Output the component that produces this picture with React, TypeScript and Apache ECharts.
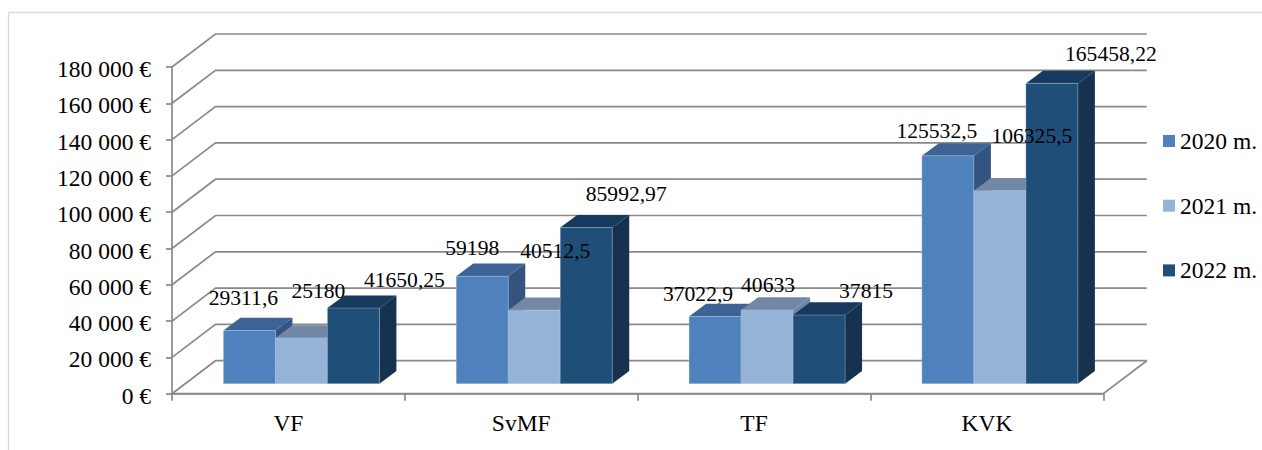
import React, { useEffect, useRef } from "react";
import * as echarts from "echarts";

const categories = ["VF", "SvMF", "TF", "KVK"];
const seriesNames = ["2020 m.", "2021 m.", "2022 m."];
const values2020 = [29311.6, 59198, 37022.9, 125532.5];
const values2021 = [25180, 40512.5, 40633, 106325.5];
const values2022 = [41650.25, 85992.97, 37815, 165458.22];
const label2020 = ["29311,6", "59198", "37022,9", "125532,5"];
const label2021 = ["25180", "40512,5", "40633", "106325,5"];
const label2022 = ["41650,25", "85992,97", "37815", "165458,22"];
const axisTicks = [0, 20000, 40000, 60000, 80000, 100000, 120000, 140000, 160000, 180000];

const allValues = [values2020, values2021, values2022];
const allLabels = [label2020, label2021, label2022];

// Appearance only
const FONT = "Liberation Serif";
const AXIS_SIZE = 23.5;
const LABEL_SIZE = 21.6;
const faceColors = [
  { front: "#4F81BD", top: "#3C6394", side: "#32547E" },
  { front: "#95B3D7", top: "#7288A6", side: "#6F86A4" },
  { front: "#1F4E79", top: "#173A5E", side: "#16324F" },
];
const labelShift = [
  [[-6, -32], [17, -47], [51, -28]],
  [[-10, -28], [21, -59], [40, -34]],
  [[-17, -23], [1, -25], [47, -24]],
  [[-11, -25], [32, -55], [59, -29]],
];
const WALL_DX = 43.5;
const WALL_DY = -33;
const PLANE_DX = 13;
const PLANE_DY = -10;
const DEPTH_DX = 17;
const DEPTH_DY = -12.7;
const BAR_W = 52;
const LINE = "#8A8A8A";
const LINE_W = 1.7;

function wallItem(params: any, api: any) {
  const cs = params.coordSys;
  const y = api.coord([0, api.value(1)])[1];
  const left = cs.x;
  const right = cs.x + cs.width;
  const children: any[] = [
    {
      type: "polyline",
      shape: { points: [[left, y], [left + WALL_DX, y + WALL_DY], [right + WALL_DX, y + WALL_DY]] },
      style: { stroke: LINE, lineWidth: LINE_W, fill: "none" },
    },
  ];
  if (api.value(1) === 0) {
    children.push({
      type: "polyline",
      shape: { points: [[left, y], [right, y], [right + WALL_DX, y + WALL_DY]] },
      style: { stroke: LINE, lineWidth: LINE_W, fill: "none" },
    });
  }
  return { type: "group", children };
}

function barItem(seriesIndex: number) {
  return (params: any, api: any) => {
    const cat = api.value(0);
    const base = api.coord([cat, 0]);
    const top = api.coord([cat, api.value(1)]);
    const cx = base[0] + PLANE_DX + (seriesIndex - 1) * BAR_W;
    const x0 = cx - BAR_W / 2;
    const x1 = cx + BAR_W / 2;
    const yb = base[1] + PLANE_DY;
    const yt = top[1] + PLANE_DY;
    const c = faceColors[seriesIndex];
    const shift = labelShift[cat][seriesIndex];
    return {
      type: "group",
      children: [
        {
          type: "polygon",
          shape: { points: [[x1, yt], [x1 + DEPTH_DX, yt + DEPTH_DY], [x1 + DEPTH_DX, yb + DEPTH_DY], [x1, yb]] },
          style: { fill: c.side },
        },
        {
          type: "polygon",
          shape: { points: [[x0, yt], [x0 + DEPTH_DX, yt + DEPTH_DY], [x1 + DEPTH_DX, yt + DEPTH_DY], [x1, yt]] },
          style: { fill: c.top },
        },
        {
          type: "rect",
          shape: { x: x0, y: yt, width: BAR_W, height: yb - yt },
          style: { fill: c.front, stroke: "rgba(190,210,235,0.35)", lineWidth: 1 },
        },
        {
          type: "text",
          z2: 100,
          style: {
            text: allLabels[seriesIndex][cat],
            x: cx + shift[0],
            y: yt + shift[1],
            align: "center",
            verticalAlign: "middle",
            fill: "#000",
            font: `${LABEL_SIZE}px "${FONT}"`,
          },
        },
      ],
    };
  };
}

function fmt(v: number) {
  const s = String(v);
  return (s.length > 3 ? s.slice(0, -3) + " " + s.slice(-3) : s) + " €";
}

export default function App() {
  const ref = useRef<HTMLDivElement>(null);
  useEffect(() => {
    const chart = echarts.init(ref.current!, undefined, { renderer: "svg" });
    chart.setOption({
      animation: false,
      backgroundColor: "#fff",
      textStyle: { fontFamily: FONT },
      grid: { left: 172, right: 158.7, top: 67, bottom: 56.3, containLabel: false },
      legend: {
        data: seriesNames,
        orient: "vertical",
        left: 1163,
        top: 128.5,
        padding: 0,
        itemWidth: 12,
        itemHeight: 12,
        itemGap: 39.7,
        icon: "rect",
        selectedMode: false,
        textStyle: { fontFamily: FONT, fontSize: AXIS_SIZE, color: "#000", lineHeight: 25 },
      },
      xAxis: {
        type: "category",
        data: categories,
        axisLine: { lineStyle: { color: LINE, width: LINE_W } },
        axisTick: { show: true, length: 7, alignWithLabel: false, lineStyle: { color: LINE, width: LINE_W } },
        axisLabel: { color: "#000", fontFamily: FONT, fontSize: AXIS_SIZE, margin: 17 },
      },
      yAxis: {
        type: "value",
        min: 0,
        max: 180000,
        interval: 20000,
        splitLine: { show: false },
        axisLine: { show: true, lineStyle: { color: LINE, width: LINE_W } },
        axisTick: { show: true, length: 6, lineStyle: { color: LINE, width: LINE_W } },
        axisLabel: { color: "#000", fontFamily: FONT, fontSize: AXIS_SIZE, margin: 21, verticalAlign: "top", lineHeight: 4, formatter: fmt },
      },
      graphic: [
        { type: "line", shape: { x1: 8.5, y1: 12.5, x2: 1262, y2: 12.5 }, style: { stroke: "#D9D9D9", lineWidth: 1.3 } },
        { type: "line", shape: { x1: 8.5, y1: 12.5, x2: 8.5, y2: 450 }, style: { stroke: "#D9D9D9", lineWidth: 1.3 } },
      ],
      series: [
        {
          name: "walls",
          type: "custom",
          renderItem: wallItem,
          data: axisTicks.map((t) => [0, t]),
          encode: { x: 0, y: 1 },
          silent: true,
        },
        ...seriesNames.map((name, i) => ({
          name,
          type: "custom",
          renderItem: barItem(i),
          itemStyle: { color: faceColors[i].front },
          data: allValues[i].map((v, c) => [c, v]),
          encode: { x: 0, y: 1 },
          silent: true,
        })),
      ],
    });
    return () => chart.dispose();
  }, []);
  return <div ref={ref} style={{ position: "absolute", left: 0, top: 0, width: 1262, height: 450 }} />;
}
